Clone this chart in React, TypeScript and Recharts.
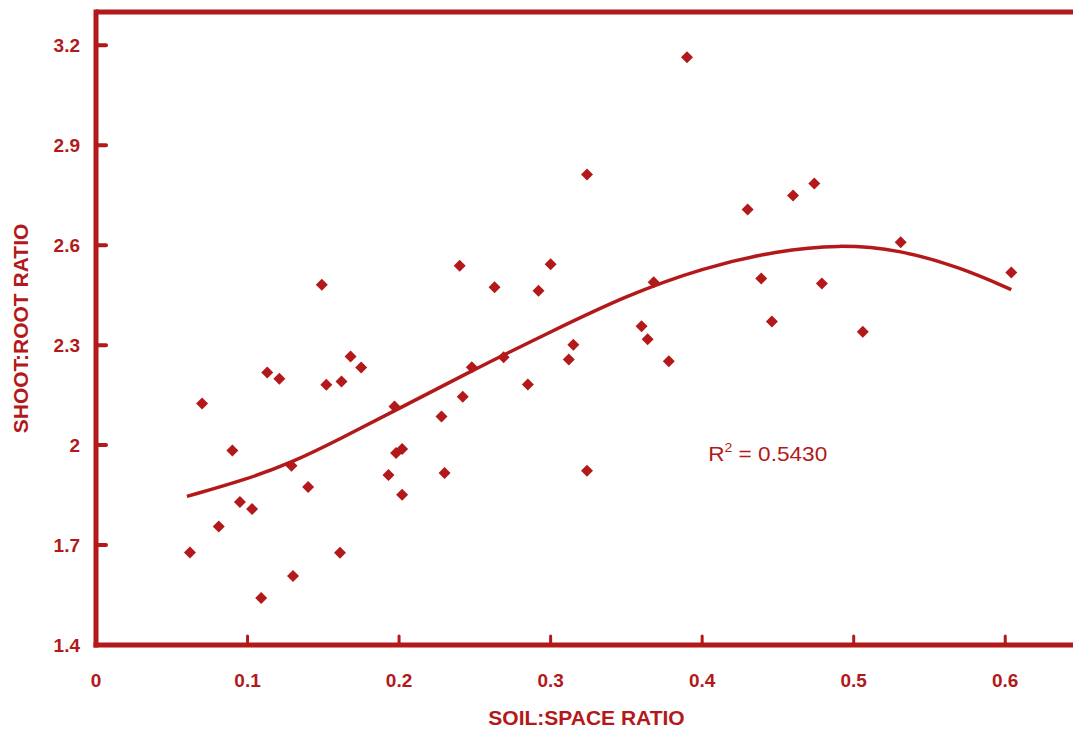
import React from 'react';
import { ComposedChart, Scatter, Line, XAxis, YAxis, ReferenceLine, ReferenceDot } from 'recharts';

const RED = '#b3191a';
const FONT = '"Liberation Sans", Arial, sans-serif';

// observed shoot:root ratios against soil:space ratio
const soilSpace = [
  0.062, 0.070, 0.081, 0.090, 0.095, 0.103, 0.109, 0.113, 0.121, 0.129,
  0.130, 0.140, 0.149, 0.152, 0.161, 0.162, 0.168, 0.175, 0.193, 0.197,
  0.198, 0.202, 0.202, 0.228, 0.230, 0.240, 0.242, 0.248, 0.263, 0.269,
  0.285, 0.292, 0.300, 0.312, 0.315, 0.324, 0.324, 0.360, 0.364, 0.368,
  0.378, 0.390, 0.430, 0.439, 0.446, 0.460, 0.474, 0.479, 0.506, 0.531,
  0.604,
];
const shootRoot = [
  1.678, 2.125, 1.756, 1.984, 1.829, 1.808, 1.541, 2.218, 2.199, 1.938,
  1.607, 1.874, 2.481, 2.181, 1.677, 2.191, 2.266, 2.233, 1.910, 2.116,
  1.976, 1.988, 1.851, 2.086, 1.916, 2.538, 2.145, 2.234, 2.474, 2.264,
  2.182, 2.463, 2.543, 2.257, 2.301, 2.812, 1.923, 2.357, 2.318, 2.489,
  2.252, 3.164, 2.707, 2.500, 2.371, 2.749, 2.785, 2.485, 2.340, 2.609,
  2.518,
];

// trend curve
const trendX = [0.06, 0.10, 0.13, 0.16, 0.20, 0.25, 0.30, 0.35, 0.40, 0.45, 0.49, 0.53, 0.57, 0.604];
const trendY = [1.846, 1.898, 1.949, 2.016, 2.11, 2.228, 2.34, 2.449, 2.532, 2.584, 2.602, 2.587, 2.534, 2.467];

const xTicks = [0, 0.1, 0.2, 0.3, 0.4, 0.5, 0.6];
const yTicks = [1.4, 1.7, 2, 2.3, 2.6, 2.9, 3.2];

const points = soilSpace.map((x, i) => ({ x, y: shootRoot[i] }));
const trend = trendX.map((x, i) => ({ x, y: trendY[i] }));

const Diamond = (props: any) => {
  const { cx, cy } = props;
  const r = 6;
  return <path d={`M${cx},${cy - r}L${cx + r},${cy}L${cx},${cy + r}L${cx - r},${cy}Z`} fill={RED} />;
};

const XTick = (props: any) => {
  const { x, y, payload } = props;
  return (
    <g>
      {payload.value !== 0 && (
        <line x1={x} y1={y} x2={x} y2={y - 9} stroke={RED} strokeWidth={3} strokeLinecap="round" />
      )}
      <text x={x} y={y + 42} textAnchor="middle" fill={RED} fontFamily={FONT} fontWeight="bold" fontSize={19}>
        {payload.value}
      </text>
    </g>
  );
};

const YTick = (props: any) => {
  const { x, y, payload } = props;
  return (
    <g>
      {payload.value !== 1.4 && (
        <line x1={x} y1={y} x2={x + 10} y2={y} stroke={RED} strokeWidth={4} strokeLinecap="round" />
      )}
      <text x={x - 16} y={y + 7} textAnchor="end" fill={RED} fontFamily={FONT} fontWeight="bold" fontSize={19}>
        {payload.value}
      </text>
    </g>
  );
};

const RSquared = (props: any) => {
  const { cx, cy } = props;
  return (
    <text x={cx} y={cy + 8} fill={RED} fontFamily={FONT} fontSize={21} textLength={119} lengthAdjust="spacingAndGlyphs">
      R<tspan fontSize={13} dy={-9}>2</tspan>
      <tspan dy={9}> = 0.5430</tspan>
    </text>
  );
};

export default function App() {
  return (
    <div style={{ position: 'absolute', left: 0, top: 0, width: 1073, height: 734, overflow: 'hidden', background: '#fff' }}>
      <ComposedChart width={1081} height={734} margin={{ top: 12, right: 0, bottom: 0, left: 0 }}>
        <XAxis
          type="number"
          dataKey="x"
          domain={[0, 0.65]}
          ticks={xTicks}
          height={89}
          tickSize={0}
          tickMargin={0}
          tickLine={false}
          tick={<XTick />}
          axisLine={{ stroke: RED, strokeWidth: 5, strokeLinecap: 'square' }}
          label={{
            content: (p: any) => (
              <text
                x={p.viewBox.x + p.viewBox.width / 2 - 2}
                y={p.viewBox.y + 80}
                textAnchor="middle"
                fill={RED}
                fontFamily={FONT}
                fontWeight="bold"
                fontSize={21}
              >
                SOIL:SPACE RATIO
              </text>
            ),
          }}
        />
        <YAxis
          type="number"
          dataKey="y"
          domain={[1.4, 3.3]}
          ticks={yTicks}
          width={96}
          tickSize={0}
          tickMargin={0}
          tickLine={false}
          tick={<YTick />}
          axisLine={{ stroke: RED, strokeWidth: 5, strokeLinecap: 'square' }}
          label={{
            content: (p: any) => {
              const cx = 28;
              const cy = p.viewBox.y + p.viewBox.height / 2;
              return (
                <text
                  x={cx}
                  y={cy}
                  transform={`rotate(-90 ${cx} ${cy})`}
                  textAnchor="middle"
                  fill={RED}
                  fontFamily={FONT}
                  fontWeight="bold"
                  fontSize={21}
                >
                  SHOOT:ROOT RATIO
                </text>
              );
            },
          }}
        />
        <ReferenceLine y={3.3} stroke={RED} strokeWidth={5} />
        <Line
          data={trend}
          dataKey="y"
          type="basis"
          stroke={RED}
          strokeWidth={3.5}
          dot={false}
          activeDot={false}
          isAnimationActive={false}
        />
        <Scatter data={points} shape={<Diamond />} isAnimationActive={false} />
        <ReferenceDot x={0.404} y={1.977} r={1} shape={<RSquared />} />
      </ComposedChart>
    </div>
  );
}
